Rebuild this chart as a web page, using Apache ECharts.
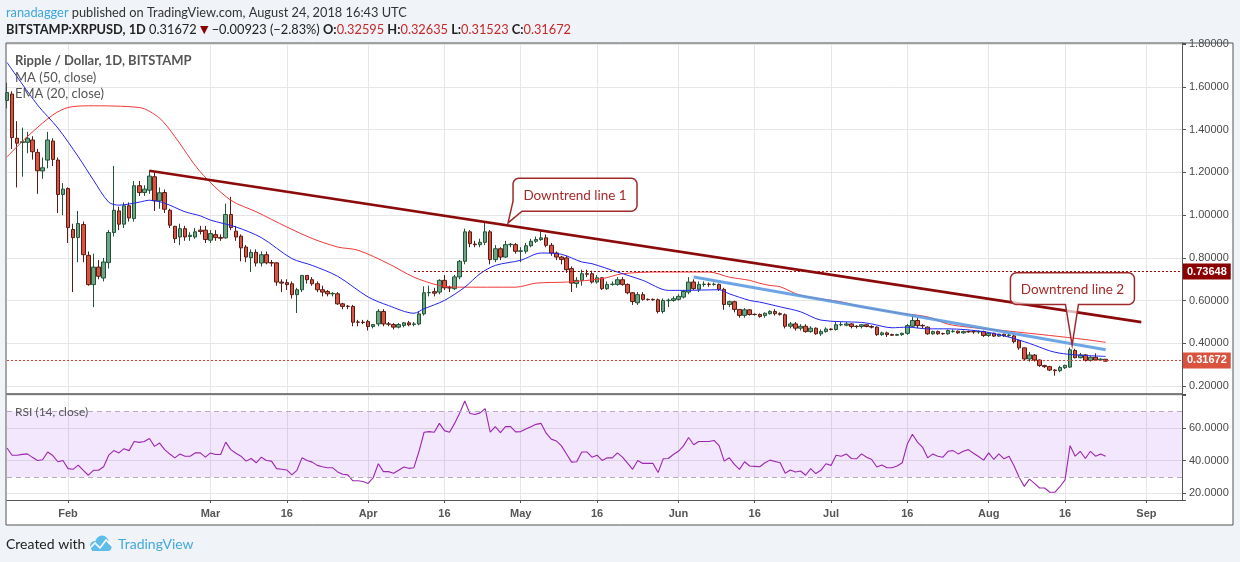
<!DOCTYPE html>
<html><head><meta charset="utf-8">
<script src="https://cdn.jsdelivr.net/npm/echarts@6/dist/echarts.min.js"></script>
<style>html,body{margin:0;padding:0;background:#f0f3f7;}#c{width:1240px;height:562px;}</style>
</head><body><div id="c"></div>
<script>
// ---------------- data ----------------
const dayCount = 232; // 2018-01-20 .. 2018-09-08
const categories = [];
for (let i = 0; i < dayCount; i++) {
  categories.push(new Date(Date.UTC(2018, 0, 20 + i)).toISOString().slice(0, 10));
}
const tickDates = ['2018-02-01','2018-03-01','2018-03-16','2018-04-01','2018-04-16','2018-05-01','2018-05-16','2018-06-01','2018-06-16','2018-07-01','2018-07-16','2018-08-01','2018-08-16','2018-09-01'];
const tickLabels = ['Feb','Mar','16','Apr','16','May','16','Jun','16','Jul','16','Aug','16','Sep'];

// [open, close, low, high]
const candles = [
[1.537,1.574,1.50,1.62],[1.567,1.363,1.31,1.58],[1.360,1.337,1.13,1.44],[1.340,1.344,1.18,1.41],[1.341,1.360,1.29,1.39],
[1.352,1.297,1.26,1.37],[1.294,1.208,1.10,1.31],[1.207,1.222,1.17,1.27],[1.258,1.352,1.22,1.39],[1.347,1.261,1.23,1.36],
[1.258,1.097,1.01,1.27],[1.097,1.122,1.00,1.15],[1.125,0.942,0.87,1.13],[0.933,0.895,0.64,0.96],[0.895,0.961,0.78,1.02],
[0.956,0.815,0.78,0.97],[0.812,0.675,0.67,0.83],[0.675,0.757,0.57,0.82],[0.757,0.714,0.70,0.79],[0.706,0.781,0.69,0.80],
[0.778,0.919,0.75,0.93],[0.919,1.023,0.90,1.23],[1.020,0.958,0.93,1.04],[0.958,1.044,0.94,1.06],[1.044,0.987,0.97,1.06],
[0.984,1.138,0.97,1.16],[1.138,1.106,1.09,1.16],[1.106,1.122,1.09,1.14],[1.117,1.183,1.10,1.21],[1.180,1.067,1.02,1.20],
[1.067,1.105,1.03,1.13],[1.106,1.028,1.01,1.12],[1.023,0.953,0.94,1.03],[0.948,0.890,0.87,0.95],[0.898,0.937,0.86,0.96],
[0.937,0.898,0.88,0.95],[0.900,0.906,0.88,0.92],[0.898,0.922,0.89,0.94],[0.930,0.924,0.91,0.95],[0.930,0.886,0.87,0.95],
[0.883,0.914,0.87,0.93],[0.909,0.895,0.88,0.93],[0.896,0.892,0.88,0.91],[0.894,1.003,0.89,1.054],[1.003,0.942,0.93,1.086],
[0.925,0.898,0.88,0.95],[0.902,0.847,0.784,0.91],[0.851,0.804,0.78,0.86],[0.801,0.826,0.734,0.84],[0.826,0.776,0.76,0.84],
[0.776,0.815,0.76,0.83],[0.815,0.777,0.77,0.83],[0.778,0.776,0.76,0.79],[0.777,0.687,0.67,0.78],[0.687,0.682,0.64,0.70],
[0.684,0.675,0.65,0.70],[0.679,0.628,0.61,0.69],[0.628,0.651,0.542,0.66],[0.651,0.718,0.64,0.72],[0.718,0.698,0.68,0.72],
[0.698,0.679,0.67,0.71],[0.679,0.651,0.64,0.69],[0.651,0.640,0.62,0.67],[0.643,0.632,0.62,0.65],[0.632,0.634,0.62,0.64],
[0.632,0.585,0.58,0.64],[0.585,0.573,0.56,0.59],[0.574,0.573,0.56,0.58],[0.573,0.499,0.48,0.58],[0.500,0.499,0.48,0.51],
[0.499,0.498,0.49,0.51],[0.502,0.479,0.46,0.51],[0.479,0.488,0.47,0.49],[0.491,0.550,0.48,0.56],[0.549,0.491,0.48,0.56],
[0.491,0.490,0.48,0.50],[0.488,0.476,0.465,0.495],[0.476,0.488,0.47,0.495],[0.484,0.496,0.475,0.50],[0.496,0.487,0.48,0.505],
[0.489,0.491,0.48,0.50],[0.491,0.538,0.485,0.55],[0.538,0.637,0.53,0.667],[0.637,0.638,0.62,0.67],[0.642,0.635,0.62,0.66],
[0.640,0.695,0.63,0.70],[0.695,0.660,0.65,0.72],[0.661,0.659,0.64,0.67],[0.656,0.711,0.65,0.72],[0.711,0.784,0.70,0.79],
[0.784,0.922,0.77,0.937],[0.922,0.867,0.85,0.93],[0.865,0.862,0.85,0.88],[0.862,0.873,0.85,0.89],[0.873,0.922,0.86,0.964],
[0.922,0.792,0.77,0.93],[0.792,0.843,0.78,0.86],[0.843,0.804,0.79,0.85],[0.804,0.862,0.80,0.88],[0.862,0.864,0.85,0.87],
[0.862,0.831,0.82,0.87],[0.831,0.833,0.78,0.85],[0.831,0.857,0.82,0.87],[0.857,0.878,0.85,0.89],[0.878,0.886,0.87,0.90],
[0.886,0.894,0.88,0.93],[0.894,0.859,0.85,0.91],[0.859,0.823,0.81,0.87],[0.823,0.804,0.79,0.83],[0.804,0.793,0.77,0.81],
[0.800,0.745,0.73,0.81],[0.750,0.682,0.640,0.76],[0.680,0.695,0.66,0.71],[0.695,0.726,0.67,0.745],[0.726,0.724,0.71,0.745],
[0.726,0.687,0.68,0.74],[0.687,0.707,0.68,0.72],[0.707,0.656,0.65,0.71],[0.656,0.676,0.65,0.69],[0.676,0.677,0.67,0.69],
[0.676,0.698,0.67,0.71],[0.698,0.676,0.67,0.71],[0.676,0.637,0.63,0.68],[0.637,0.596,0.58,0.64],[0.590,0.628,0.58,0.64],
[0.628,0.606,0.60,0.64],[0.606,0.605,0.60,0.61],[0.606,0.604,0.60,0.61],[0.604,0.549,0.54,0.61],[0.549,0.601,0.54,0.61],
[0.600,0.602,0.57,0.61],[0.601,0.609,0.595,0.62],[0.606,0.620,0.60,0.63],[0.617,0.643,0.61,0.65],[0.640,0.687,0.63,0.710],
[0.687,0.656,0.65,0.70],[0.653,0.676,0.64,0.69],[0.676,0.677,0.665,0.69],[0.677,0.676,0.665,0.685],[0.676,0.677,0.67,0.685],
[0.676,0.653,0.645,0.68],[0.653,0.582,0.557,0.66],[0.582,0.595,0.57,0.60],[0.595,0.559,0.545,0.60],[0.559,0.531,0.52,0.56],
[0.531,0.557,0.52,0.565],[0.557,0.535,0.53,0.56],[0.536,0.535,0.53,0.54],[0.535,0.526,0.52,0.54],[0.530,0.541,0.52,0.545],
[0.539,0.549,0.535,0.555],[0.549,0.539,0.53,0.56],[0.539,0.536,0.53,0.545],[0.534,0.480,0.47,0.54],[0.480,0.491,0.47,0.50],
[0.491,0.471,0.46,0.50],[0.471,0.480,0.46,0.49],[0.480,0.455,0.45,0.49],[0.455,0.471,0.45,0.48],[0.471,0.445,0.44,0.475],
[0.445,0.455,0.435,0.465],[0.455,0.467,0.45,0.475],[0.467,0.465,0.46,0.47],[0.465,0.487,0.46,0.50],[0.487,0.488,0.48,0.50],
[0.485,0.491,0.48,0.50],[0.491,0.479,0.47,0.495],[0.480,0.479,0.47,0.485],[0.479,0.487,0.47,0.49],[0.487,0.479,0.475,0.49],
[0.479,0.476,0.47,0.485],[0.476,0.441,0.435,0.48],[0.441,0.449,0.435,0.455],[0.449,0.441,0.43,0.455],[0.441,0.438,0.435,0.445],
[0.438,0.441,0.435,0.445],[0.441,0.447,0.435,0.45],[0.447,0.483,0.44,0.49],[0.480,0.507,0.475,0.53],[0.507,0.483,0.47,0.52],
[0.484,0.482,0.47,0.49],[0.476,0.445,0.44,0.48],[0.445,0.455,0.44,0.46],[0.455,0.445,0.44,0.46],[0.446,0.445,0.44,0.45],
[0.445,0.460,0.44,0.465],[0.455,0.457,0.45,0.465],[0.457,0.449,0.445,0.46],[0.449,0.455,0.445,0.46],[0.455,0.454,0.45,0.46],
[0.455,0.454,0.445,0.46],[0.454,0.455,0.445,0.46],[0.455,0.437,0.43,0.46],[0.437,0.447,0.43,0.45],[0.447,0.434,0.43,0.45],
[0.434,0.443,0.43,0.445],[0.443,0.436,0.43,0.445],[0.436,0.439,0.43,0.445],[0.435,0.408,0.40,0.44],[0.413,0.379,0.37,0.415],
[0.379,0.327,0.32,0.38],[0.327,0.346,0.315,0.36],[0.345,0.322,0.315,0.35],[0.322,0.296,0.29,0.325],[0.296,0.291,0.285,0.30],
[0.291,0.275,0.27,0.295],[0.275,0.272,0.249,0.28],[0.272,0.287,0.265,0.295],[0.286,0.297,0.28,0.30],[0.289,0.370,0.285,0.38],
[0.367,0.333,0.33,0.375],[0.333,0.346,0.33,0.355],[0.346,0.320,0.315,0.35],[0.320,0.335,0.315,0.34],[0.335,0.322,0.318,0.353],
[0.322,0.32595,0.318,0.33],[0.32595,0.31672,0.31523,0.32635]
];

// EMA(20): [day index, value]
const ema20 = [[0,1.715],[6,1.516],[10,1.408],[14,1.274],[17,1.164],[20,1.061],[22,1.047],[26,1.061],[28,1.07],[31,1.056],
[35,1.016],[38,0.997],[40,0.977],[45,0.945],[50,0.895],[56,0.797],[60,0.765],[65,0.714],[71,0.617],[75,0.577],[80,0.541],
[82,0.562],[86,0.601],[90,0.663],[93,0.726],[96,0.765],[101,0.789],[105,0.823],[109,0.817],[113,0.781],[115,0.773],
[120,0.734],[125,0.695],[130,0.648],[133,0.648],[140,0.651],[142,0.632],[146,0.601],[148,0.593],[152,0.571],[156,0.548],
[160,0.509],[168,0.498],[170,0.491],[174,0.473],[177,0.476],[181,0.468],[185,0.468],[192,0.455],[197,0.429],[201,0.40],
[205,0.365],[207,0.354],[210,0.346],[216,0.339]];
// MA(50): [day index, value]
const ma50 = [[0,1.273],[4,1.368],[9,1.469],[12,1.504],[16,1.512],[26,1.504],[30,1.454],[33,1.368],[38,1.203],[44,1.07],
[49,1.016],[55,0.945],[60,0.891],[65,0.851],[69,0.836],[75,0.773],[80,0.710],[85,0.671],[89,0.663],[100,0.663],[104,0.682],
[110,0.687],[117,0.703],[121,0.726],[128,0.734],[138,0.734],[142,0.710],[146,0.695],[148,0.681],[150,0.671],[152,0.665],
[156,0.625],[164,0.594],[168,0.571],[176,0.540],[181,0.524],[185,0.49],[189,0.476],[197,0.457],[205,0.437],[212,0.418],[216,0.405]];
// RSI(14), one value per day
const rsi14 = [47.7,43.3,43.3,43.8,44.1,42,40.1,40.5,45.3,43.1,39.3,40.1,35.1,34.7,37.3,34,31.1,34.1,34.1,36.3,
43.3,46.1,44.7,47.3,46.1,51.7,51.1,51.7,53.5,48.7,50.7,46.7,44,41.7,44.1,42.7,42.7,44.7,44.7,42.1,
44.7,43.7,43.7,51.3,46.7,44.5,42.7,39.7,41.3,38.7,42.1,40.1,39.7,35.1,34.7,34.3,31.3,34.1,41.7,40.1,
39.1,37.1,36.3,35.7,35.7,33.1,31.7,31.3,27.7,27.7,27.3,26.1,29.7,38.1,33.3,33.3,32.3,34.1,36.1,35.3,
35.7,45.7,57.3,57.7,57.3,62.7,58.3,57.3,62.7,69,76.3,68.7,68.1,69.1,71.7,57.3,60.7,57.1,60.7,60.7,
57.5,57.7,59.3,60.7,62.1,62.7,56.7,53.1,52,49,44,39.1,39.3,45.3,45.3,42.1,43.3,40.1,41.7,41.7,
44.7,42.1,38.5,34.7,40.1,38.3,38.3,38.3,32.7,41.1,41.3,43.7,45.7,49,54.1,49.7,51.7,51.7,51.7,52.3,
49.1,39.7,41.7,37.7,34.7,39.3,36.7,36.5,36.3,38.7,40.3,39.5,38.7,32.3,34.3,33.1,33.7,31.1,35.1,32.1,
34.1,38.1,37.1,43.3,42.7,44.1,41.3,41.1,44.1,42.1,40.7,36.1,37.3,35.7,35.7,36.7,38.7,50.1,56.1,51.3,
48.1,41.7,44.1,42.7,42.1,45.7,46.1,44.1,45.7,46.7,44.5,42.5,40.3,44.7,40.7,44.1,41.1,42.7,36.7,29.7,
24.3,28.7,26.1,23.3,23.3,20.7,20.7,24.1,28.3,49.1,42.7,45.7,41.3,45.7,42.7,44.1,42.7];

// drawn annotations
const trendLine1 = [[28,1.208],[223,0.4995]];
const trendLine2 = [[135,0.711],[216,0.370]];
const levelLine = {value: 0.73648, from: 80, to: 231};
const rsiLabels = [20, 40, 60];
const callouts = [
  {text: 'Downtrend line 1', tip: [98.5, 0.964], kind: 1},
  {text: 'Downtrend line 2', tip: [209.4, 0.392], kind: 2}
];

// -------------- derived text --------------
const last = candles[candles.length - 1];
const prevClose = candles[candles.length - 2][1];
const lastClose = last[1];
const chg = lastClose - prevClose;
const chgPct = chg / prevClose * 100;
const fmtS = v => (v < 0 ? '\u2212' : '') + Math.abs(v).toFixed(5);

const tickMap = {};
tickDates.forEach((d, i) => tickMap[d] = tickLabels[i]);
const isTick = (idx, val) => tickMap[val] !== undefined;

const chart = echarts.init(document.getElementById('c'), null, {width: 1240, height: 562});
const gridColor = '#e6e6e6';
const axisFont = 'Liberation Sans';

const option = {
  animation: false,
  backgroundColor: '#f0f3f7',
  grid: [
    {left: 7, right: 58, top: 43, height: 351},
    {left: 7, right: 58, top: 395, height: 105}
  ],
  xAxis: [
    {type: 'category', gridIndex: 0, data: categories, boundaryGap: false,
     axisLine: {show: true, onZero: false, lineStyle: {color: '#555', width: 1.5}},
     axisTick: {show: false}, axisLabel: {show: false},
     splitLine: {show: true, interval: isTick, lineStyle: {color: gridColor}}},
    {type: 'category', gridIndex: 1, data: categories, boundaryGap: false,
     axisLine: {show: true, onZero: false, lineStyle: {color: '#555'}},
     axisTick: {show: true, interval: isTick, length: 3, lineStyle: {color: '#555'}},
     axisLabel: {show: true, interval: isTick, formatter: v => tickMap[v] || '', margin: 8,
       color: '#555', fontFamily: axisFont, fontSize: 11, fontWeight: 'bold'},
     splitLine: {show: true, interval: isTick, lineStyle: {color: gridColor}}}
  ],
  yAxis: [
    {type: 'value', gridIndex: 0, position: 'right', min: 0.163, max: 1.806,
     minInterval: 0.2, maxInterval: 0.2, splitNumber: 8,
     axisLine: {show: true, lineStyle: {color: '#555'}},
     axisTick: {show: true, length: 4, lineStyle: {color: '#555'}},
     axisLabel: {margin: 7, color: '#4a4a4a', fontFamily: axisFont, fontSize: 11,
       formatter: v => Math.abs(v / 0.2 - Math.round(v / 0.2)) < 1e-6 ? v.toFixed(5) : ''},
     splitLine: {show: true, lineStyle: {color: gridColor}}},
    {type: 'value', gridIndex: 1, position: 'right', min: 16, max: 80,
     minInterval: 20, maxInterval: 20,
     axisLine: {show: true, lineStyle: {color: '#555'}},
     axisTick: {show: true, length: 4, lineStyle: {color: '#555'}},
     axisLabel: {margin: 7, color: '#4a4a4a', fontFamily: axisFont, fontSize: 11,
       formatter: v => (rsiLabels.indexOf(Math.round(v)) >= 0 && Math.abs(v - Math.round(v)) < 1e-6 ? v.toFixed(4) : '')},
     splitLine: {show: true, lineStyle: {color: gridColor}}}
  ],
  series: [
    {type: 'candlestick', name: 'XRPUSD', xAxisIndex: 0, yAxisIndex: 0, data: candles, barWidth: 4, z: 3,
     itemStyle: {color: '#6ba583', color0: '#d75442', borderColor: '#225437', borderColor0: '#5b1a13', borderWidth: 1},
     markLine: {silent: true, symbol: ['none', 'none'], animation: false,
       data: [
         {yAxis: lastClose,
          lineStyle: {type: [2, 2], color: '#e0412c', width: 1},
          label: {show: true, position: 'end', distance: 1, formatter: lastClose.toFixed(5),
            backgroundColor: '#d9533f', color: '#fff', fontWeight: 'bold', fontFamily: axisFont,
            fontSize: 11, padding: [3, 4, 2, 4]}},
         [{coord: [levelLine.from, levelLine.value],
           lineStyle: {type: [2, 2], color: '#8b0000', width: 1},
           label: {show: true, position: 'end', distance: 1, formatter: levelLine.value.toFixed(5),
             backgroundColor: '#8b0000', color: '#fff', fontWeight: 'bold', fontFamily: axisFont,
             fontSize: 11, padding: [3, 4, 2, 4]}},
          {coord: [levelLine.to, levelLine.value]}]
       ]}},
    {type: 'line', name: 'MA (50, close)', xAxisIndex: 0, yAxisIndex: 0, data: ma50, smooth: 0.3,
     symbol: 'none', lineStyle: {color: '#f23838', width: 1}, z: 4},
    {type: 'line', name: 'EMA (20, close)', xAxisIndex: 0, yAxisIndex: 0, data: ema20, smooth: 0.3,
     symbol: 'none', lineStyle: {color: '#2424f0', width: 1}, z: 4},
    {type: 'line', name: 'Downtrend line 1', xAxisIndex: 0, yAxisIndex: 0, data: trendLine1,
     symbol: 'none', lineStyle: {color: '#8b0a0a', width: 2.6}, z: 5},
    {type: 'line', name: 'Downtrend line 2', xAxisIndex: 0, yAxisIndex: 0, data: trendLine2,
     symbol: 'none', lineStyle: {color: 'rgba(85,150,225,0.85)', width: 3}, z: 5},
    {type: 'line', name: 'RSI (14, close)', xAxisIndex: 1, yAxisIndex: 1, data: rsi14,
     symbol: 'none', lineStyle: {color: '#9c27b0', width: 1.1}, z: 4,
     markArea: {silent: true, itemStyle: {color: 'rgba(150,40,240,0.114)'},
       data: [[{yAxis: 30}, {yAxis: 70}]]},
     markLine: {silent: true, symbol: ['none', 'none'], label: {show: false},
       lineStyle: {type: [5, 4], color: '#b9a9c4', width: 1},
       data: [{yAxis: 70}, {yAxis: 30}]}}
  ]
};
chart.setOption(option);

// ---------------- annotations / texts ----------------
function toPx(idx, val) {
  const i0 = Math.floor(idx), i1 = Math.ceil(idx);
  const p0 = chart.convertToPixel({seriesIndex: 0}, [i0, val]);
  const p1 = chart.convertToPixel({seriesIndex: 0}, [i1, val]);
  return [p0[0] + (p1[0] - p0[0]) * (idx - i0), p0[1]];
}
function arc(cx, cy, r, a0, a1, pts) {
  const n = 6;
  for (let k = 0; k <= n; k++) {
    const a = (a0 + (a1 - a0) * k / n) * Math.PI / 180;
    pts.push([cx + r * Math.cos(a), cy + r * Math.sin(a)]);
  }
}
function calloutShape(c) {
  const [tx, ty] = toPx(c.tip[0], c.tip[1]);
  const r = 6, pts = [];
  let L, T, R, B;
  if (c.kind === 1) {
    L = tx + 5; R = tx + 129; T = ty - 44.7; B = ty - 11.7;
    arc(L + r, T + r, r, 180, 270, pts);
    arc(R - r, T + r, r, 270, 360, pts);
    arc(R - r, B - r, r, 0, 90, pts);
    pts.push([tx + 14, B], [tx, ty], [L, B - 10]);
  } else {
    L = tx - 61.7; R = tx + 62.3; T = ty - 72.3; B = ty - 40.7;
    arc(L + r, T + r, r, 180, 270, pts);
    arc(R - r, T + r, r, 270, 360, pts);
    arc(R - r, B - r, r, 0, 90, pts);
    pts.push([tx + 6.3, B], [tx, ty], [tx - 6.7, B]);
    arc(L + r, B - r, r, 90, 180, pts);
  }
  return [
    {type: 'polygon', z: 50, shape: {points: pts},
     style: {fill: 'rgba(255,255,255,0.72)', stroke: '#a02a2a', lineWidth: 1.5}},
    {type: 'text', z: 51, x: (L + R) / 2, y: (T + B) / 2 + 1,
     style: {text: c.text, fill: '#a52a2a', font: '13.5px Lato', textAlign: 'center', textVerticalAlign: 'middle'}}
  ];
}

const txt = (x, y, text, font, fill) => ({type: 'text', z: 60, x, y,
  style: {text, font, fill, textVerticalAlign: 'middle'}});

const headerLine2 = '{b|BITSTAMP:XRPUSD, 1D}{n| ' + lastClose.toFixed(5) + ' }{t|\u25BC}{n| ' + fmtS(chg) +
  ' (' + (chgPct < 0 ? '\u2212' : '') + Math.abs(chgPct).toFixed(2) + '%) }{b|O:}{r|' + last[0].toFixed(5) +
  '}{b| H:}{r|' + last[3].toFixed(5) + '}{b| L:}{r|' + last[2].toFixed(5) + '}{b| C:}{r|' + lastClose.toFixed(5) + '}';

const graphics = [
  {type: 'rect', z: -100, shape: {x: 6, y: 43, width: 1227, height: 482}, style: {fill: '#ffffff', stroke: null}},
  {type: 'rect', z: 70, shape: {x: 6, y: 43, width: 1227, height: 482}, style: {fill: null, stroke: '#555', lineWidth: 1}},
  {type: 'text', z: 60, x: 6, y: 13, style: {
    text: '{a|ranadagger}{n| published on TradingView.com, August 24, 2018 16:43 UTC}',
    font: '12.8px Lato', textVerticalAlign: 'middle',
    rich: {a: {fill: '#3fa6dc', font: '12.8px Lato'}, n: {fill: '#333', font: '12.8px Lato'}}}},
  {type: 'text', z: 60, x: 6, y: 30, style: {
    text: headerLine2, font: '12.8px Lato', textVerticalAlign: 'middle',
    rich: {b: {fill: '#222', font: 'bold 12.8px Lato'}, n: {fill: '#222', font: '12.8px Lato'},
           t: {fill: '#8b0000', font: '11px DejaVu Sans'}, r: {fill: '#c62828', font: '12.8px Lato'}}}},
  txt(15, 61, 'Ripple / Dollar, 1D, BITSTAMP', 'bold 13px Lato', '#555'),
  txt(15, 78, 'MA (50, close)', '13px Lato', '#555'),
  txt(15, 94, 'EMA (20, close)', '13px Lato', '#555'),
  txt(15, 412, 'RSI (14, close)', '12px Lato', '#555'),
  txt(6, 544, 'Created with', '14px Lato', '#222'),
  txt(118, 544, 'TradingView', '14px Lato', '#45a9dc'),
  // logo
  {type: 'circle', z: 60, shape: {cx: 95, cy: 546, r: 5}, style: {fill: '#5cbdea'}},
  {type: 'circle', z: 60, shape: {cx: 102, cy: 542, r: 6.5}, style: {fill: '#5cbdea'}},
  {type: 'circle', z: 60, shape: {cx: 107.5, cy: 547, r: 4}, style: {fill: '#5cbdea'}},
  {type: 'rect', z: 60, shape: {x: 92, y: 546, width: 17, height: 5}, style: {fill: '#5cbdea'}},
  {type: 'polyline', z: 61, shape: {points: [[89, 549], [95, 543], [100, 548], [106, 540], [112, 546]]},
   style: {stroke: '#ffffff', lineWidth: 1.6, fill: null}}
];
callouts.forEach(c => graphics.push(...calloutShape(c)));
chart.setOption({graphic: graphics});
</script>
</body></html>
